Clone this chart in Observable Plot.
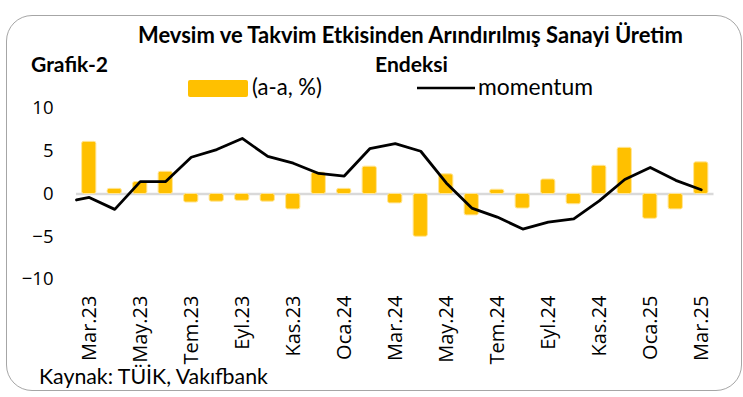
<!DOCTYPE html>
<html>
<head>
<meta charset="utf-8">
<script src="https://cdn.jsdelivr.net/npm/d3@7"></script>
<script src="https://cdn.jsdelivr.net/npm/@observablehq/plot@0.6"></script>
<style>
  html, body { margin: 0; padding: 0; background: #fff; }
  #wrap { position: relative; width: 743px; height: 397px; overflow: hidden; background: #fff; }
  #frame { position: absolute; left: 6px; top: 15px; width: 736px; height: 376px;
           border: 1.5px solid #a6a6a6; border-radius: 26px; box-sizing: border-box; }
  #chart { position: absolute; left: 0; top: 0; }
  #overlay { position: absolute; left: 0; top: 0; }
</style>
</head>
<body>
<div id="wrap">
  <div id="frame"></div>
  <div id="chart"></div>
  <svg id="overlay" width="743" height="397"></svg>
</div>
<script>
// ---- data ----
const months = ["Mar.23","Nis.23","May.23","Haz.23","Tem.23","Ağu.23","Eyl.23","Eki.23","Kas.23","Ara.23",
                "Oca.24","Şub.24","Mar.24","Nis.24","May.24","Haz.24","Tem.24","Ağu.24","Eyl.24","Eki.24",
                "Kas.24","Ara.24","Oca.25","Şub.25","Mar.25"];
const aaChange = [6.1, 0.6, 1.4, 2.6, -1.0, -0.9, -0.8, -0.9, -1.8, 2.5,
                  0.6, 3.2, -1.1, -5.0, 2.3, -2.5, 0.5, -1.7, 1.7, -1.2,
                  3.3, 5.4, -2.9, -1.8, 3.7];
const momentumLead = -0.7; // value drawn at the left edge of the first month
const momentum = [-0.4, -1.8, 1.45, 1.45, 4.3, 5.2, 6.5, 4.4, 3.6, 2.4,
                  2.1, 5.3, 5.9, 5.0, 1.3, -1.65, -2.7, -4.1, -3.3, -2.9,
                  -0.8, 1.7, 3.1, 1.6, 0.5];
const yTicks = [-10, -5, 0, 5, 10];
const xTickLabels = ["Mar.23","May.23","Tem.23","Eyl.23","Kas.23","Oca.24","Mar.24","May.24","Tem.24","Eyl.24","Kas.24","Oca.25","Mar.25"];

const titleLine1 = "Mevsim ve Takvim Etkisinden Arındırılmış Sanayi Üretim";
const titleLine2 = "Endeksi";
const chartNo = "Grafik-2";
const legendBar = "(a-a, %)";
const legendLine = "momentum";
const caption = "Kaynak: TÜİK, Vakıfbank";

// ---- tables ----
const bars = aaChange.map((v, i) => ({ i, v, m: months[i] }));
const line = [{ i: -0.5, v: momentumLead }].concat(momentum.map((v, i) => ({ i, v })));
const tickIdx = xTickLabels.map(l => months.indexOf(l));

const calLike = "Lato, 'Open Sans', sans-serif";
const tickFont = "Open Sans";

const chart = Plot.plot({
  width: 743,
  height: 397,
  marginLeft: 76,
  marginRight: 29.5,
  marginTop: 108,
  marginBottom: 118,
  style: { fontFamily: "'Open Sans', sans-serif", color: "#000", background: "transparent", overflow: "visible" },
  x: { type: "linear", domain: [-0.5, months.length - 0.5] },
  y: { domain: [-10, 10] },
  marks: [
    Plot.ruleY([0], { stroke: "#d9d9d9", strokeWidth: 2.5 }),
    Plot.rectY(bars, { x1: d => d.i - 0.28, x2: d => d.i + 0.28, y1: 0, y2: "v",
                       fill: "#FFC000", stroke: "#FFE699", strokeWidth: 1, rx: 2 }),
    Plot.line(line, { x: "i", y: "v", stroke: "#000", strokeWidth: 2.8 }),
    Plot.axisY({ ticks: yTicks, tickSize: 0, tickPadding: 23, fontSize: 18.5, fontFamily: tickFont,
                 label: null, fill: "#000" }),
    Plot.axisX({ ticks: tickIdx, tickFormat: i => months[i], tickRotate: -90, tickSize: 0,
                 tickPadding: 16, fontSize: 20, fontFamily: tickFont, label: null, fill: "#000" })
  ]
});
document.getElementById("chart").appendChild(chart);

// ---- overlay texts (title, legend, caption) ----
const ov = d3.select("#overlay");
function fitText(str, x0, x1, baseline, weight) {
  const t = ov.append("text").text(str)
    .attr("x", x0).attr("y", baseline)
    .attr("font-family", calLike).attr("font-weight", weight || "normal")
    .attr("font-size", 20).attr("fill", "#000");
  const w = t.node().getComputedTextLength();
  if (w > 0) t.attr("font-size", 20 * (x1 - x0) / w);
  return t;
}
fitText(titleLine1, 138, 683, 43, "bold");
fitText(chartNo, 31, 108, 72, "bold");
fitText(titleLine2, 375, 448, 72, "bold");
ov.append("rect").attr("x", 188).attr("y", 80).attr("width", 60).attr("height", 17)
  .attr("rx", 2).attr("fill", "#FFC000");
fitText(legendBar, 252, 322, 95);
ov.append("line").attr("x1", 417).attr("x2", 475).attr("y1", 88).attr("y2", 88)
  .attr("stroke", "#000").attr("stroke-width", 2.6);
fitText(legendLine, 478, 593, 95);
fitText(caption, 39, 268, 384);
</script>
</body>
</html>
